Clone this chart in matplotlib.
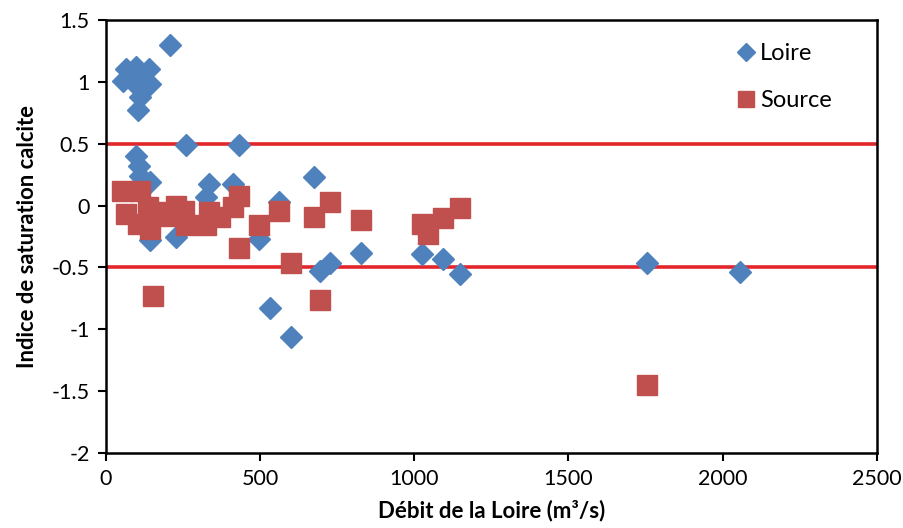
import matplotlib.pyplot as plt

plt.rcParams['font.family'] = ['Lato', 'DejaVu Sans']

# Loire samples: discharge (m3/s) and calcite saturation index
loire_q = [209, 67, 99, 140, 56, 103, 142, 103, 110, 103, 259, 431, 99, 108, 110, 142,
           336, 412, 326, 563, 142, 229, 498, 531, 674, 694, 728, 829, 1026, 1094, 1150,
           600, 1756, 2057]
loire_si = [1.30, 1.105, 1.12, 1.105, 1.01, 1.07, 0.98, 0.96, 0.875, 0.77, 0.49, 0.49, 0.40,
            0.32, 0.24, 0.19, 0.175, 0.175, 0.07, 0.03, -0.28, -0.255, -0.27, -0.83, 0.235,
            -0.525, -0.46, -0.38, -0.39, -0.43, -0.55, -1.065, -0.46, -0.54]

# Source samples
source_q = [52, 110, 67, 137, 105, 142, 158, 207, 229, 255, 261, 326, 336, 369, 412, 433,
            433, 498, 563, 601, 153, 674, 728, 829, 1026, 1046, 1094, 1150, 695, 1756]
source_si = [0.12, 0.12, -0.07, -0.01, -0.15, -0.19, -0.05, -0.08, 0.0, -0.04, -0.16, -0.16,
             -0.05, -0.09, -0.01, 0.08, -0.34, -0.16, -0.04, -0.46, -0.73, -0.095, 0.03,
             -0.12, -0.15, -0.23, -0.10, -0.02, -0.76, -1.45]

limits = [0.5, -0.5]

fig = plt.figure(figsize=(9.04, 5.28), dpi=100)
ax = fig.add_axes([0.117, 0.142, 0.853, 0.820])

for lim in limits:
    ax.axhline(lim, color='#E3262B', lw=2.6, zorder=1)

ax.plot(loire_q, loire_si, 'D', color='#4F81BD', markersize=11, label='Loire', zorder=2)
ax.plot(source_q, source_si, 's', color='#C0504D', markersize=14, label='Source', zorder=3)

ax.set_xlim(0, 2500)
ax.set_ylim(-2, 1.5)
ax.set_xticks(range(0, 2501, 500))
ax.set_yticks([-2, -1.5, -1, -0.5, 0, 0.5, 1, 1.5])
ax.set_yticklabels(['-2', '-1.5', '-1', '-0.5', '0', '0.5', '1', '1.5'])
ax.tick_params(direction='out', length=5.5, width=1.5, labelsize=15.5, pad=6)
for s in ax.spines.values():
    s.set_linewidth(1.8)

ax.set_xlabel('Débit de la Loire (m³/s)', fontsize=16, fontweight='bold', labelpad=8)
ax.set_ylabel('Indice de saturation calcite', fontsize=15.8, fontweight='bold', labelpad=10)

ax.legend(loc='upper left', bbox_to_anchor=(0.815, 0.947), frameon=False, fontsize=17,
          labelspacing=1.1, handletextpad=0.1, handlelength=1.0, borderpad=0,
          borderaxespad=0, markerscale=0.85)

fig.savefig('out.png')
